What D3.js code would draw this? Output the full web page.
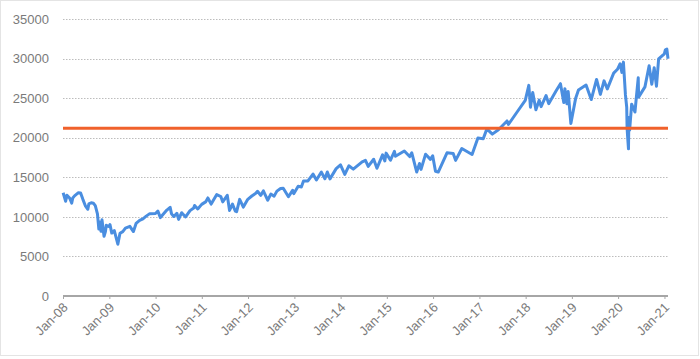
<!DOCTYPE html>
<html><head><meta charset="utf-8">
<script src="https://cdn.jsdelivr.net/npm/d3@7"></script>
<style>
html,body{margin:0;padding:0;background:#fff;}
svg{display:block;}
</style></head>
<body>
<svg id="chart" width="700" height="359"></svg>
<script>
const dates = [
"2008-01-02","2008-01-22","2008-02-01","2008-02-22","2008-03-10","2008-03-18","2008-04-01","2008-05-02","2008-05-19","2008-06-06","2008-06-27","2008-07-15","2008-07-23","2008-08-11","2008-08-28","2008-09-12","2008-09-29","2008-10-10","2008-10-13","2008-10-27","2008-11-04","2008-11-20","2008-12-01","2008-12-08","2008-12-31",
"2009-01-06","2009-01-20","2009-02-09","2009-03-09","2009-03-26","2009-04-17","2009-05-08","2009-06-12","2009-07-10","2009-07-31","2009-08-28","2009-09-23","2009-10-19","2009-11-16","2009-12-31",
"2010-01-19","2010-02-08","2010-03-31","2010-04-26","2010-05-07","2010-05-25","2010-06-18","2010-07-02","2010-07-26","2010-08-26","2010-09-30","2010-10-29","2010-11-05","2010-11-30","2010-12-31",
"2011-01-31","2011-02-18","2011-03-16","2011-04-29","2011-05-31","2011-06-15","2011-07-21","2011-08-08","2011-08-31","2011-09-22","2011-10-03","2011-10-27","2011-11-25","2011-12-30",
"2012-01-31","2012-02-29","2012-03-16","2012-04-10","2012-05-01","2012-06-04","2012-06-29","2012-07-25","2012-08-16","2012-09-14","2012-10-05","2012-11-15","2012-12-18","2012-12-28",
"2013-01-31","2013-02-25","2013-03-14","2013-04-18","2013-05-28","2013-06-24","2013-08-02","2013-08-30","2013-09-18","2013-10-09","2013-11-27","2013-12-31",
"2014-02-03","2014-03-07","2014-04-11","2014-06-20","2014-07-16","2014-08-07","2014-09-19","2014-10-15","2014-11-28","2014-12-16","2014-12-26",
"2015-01-30","2015-03-02","2015-03-10","2015-05-19","2015-06-30","2015-07-17","2015-08-25","2015-09-16","2015-09-28","2015-11-03","2015-12-11","2015-12-29",
"2016-01-20","2016-02-11","2016-04-20","2016-06-08","2016-06-27","2016-08-15","2016-11-04","2016-12-20",
"2017-01-31","2017-03-01","2017-04-13","2017-05-31","2017-08-07","2017-08-18","2017-10-31","2017-12-29",
"2018-01-26","2018-02-08","2018-02-26","2018-03-23","2018-04-18","2018-05-03","2018-06-11","2018-07-02","2018-08-31","2018-10-03","2018-10-29","2018-11-07","2018-11-23","2018-12-03","2018-12-24",
"2019-01-31","2019-02-22","2019-04-23","2019-06-03","2019-07-15","2019-08-14","2019-09-12","2019-10-08","2019-11-27","2019-12-27",
"2020-01-17","2020-01-31","2020-02-12","2020-02-28","2020-03-09","2020-03-12","2020-03-16","2020-03-23","2020-03-26","2020-04-01","2020-04-17","2020-05-13","2020-06-08","2020-06-11","2020-07-31","2020-09-02","2020-09-23","2020-10-12","2020-10-30","2020-11-16","2020-12-31",
"2021-01-08","2021-01-20","2021-01-29"
];
const values = [
13044,11971,12743,12381,11740,12392,12654,13058,13028,12210,11346,10962,11632,11782,11715,11421,10365,8451,9387,8175,9625,7552,8149,8934,8776,
9015,7949,8270,6547,7924,8131,8575,8799,8146,9172,9544,9748,10092,10406,10428,
10725,9908,10857,11205,10380,10043,10450,9686,10525,9985,10788,11118,11444,11006,11578,
11892,12391,11613,12811,12570,11897,12724,10810,11614,10734,10655,12208,11231,12218,
12633,12952,13233,12716,13279,12101,12880,12617,13250,13593,13610,12542,13351,12938,
13861,13784,14539,14537,15409,14660,15658,14810,15677,14802,16097,16577,
15373,16453,16027,16947,17138,16368,17280,16142,17828,17069,18053,
17165,18288,17662,18312,17620,18086,15666,16739,16001,17918,17265,17720,
15766,15660,18096,18005,17140,18636,17888,19974,
19864,21115,20453,21009,22118,21675,23377,24719,
26617,23860,25710,23533,24748,23930,25322,24307,25965,26828,24443,26191,24286,25826,21792,
24999,26031,26656,24819,27359,25479,27182,26164,28164,28645,
29348,28256,29551,25409,23851,21200,20189,18592,22552,20943,24242,23248,27572,25128,26428,29100,26763,28837,26502,29950,30606,
31098,31188,29983
];
const yTicks = [0,5000,10000,15000,20000,25000,30000,35000];
const xTickYears = [2008,2009,2010,2011,2012,2013,2014,2015,2016,2017,2018,2019,2020,2021];
const xTickLabels = ["Jan-08","Jan-09","Jan-10","Jan-11","Jan-12","Jan-13","Jan-14","Jan-15","Jan-16","Jan-17","Jan-18","Jan-19","Jan-20","Jan-21"];
const referenceLevel = [21200];

(function(){
const svg = d3.select("#chart");
const W = 700, H = 359;
const pL = 63, pR = 668, pT = 19, pB = 296;
const parse = d3.utcParse("%Y-%m-%d");
const data = dates.map((d,i)=>({date:parse(d), value:values[i]}));

const x = d3.scaleUtc().domain([new Date(Date.UTC(2008,0,1)), new Date(Date.UTC(2021,0,29))]).range([pL,pR]);
const y = d3.scaleLinear().domain([0,35000]).range([pB,pT]);

svg.append("rect").attr("x",0.5).attr("y",0.5).attr("width",W-2).attr("height",H-4)
  .attr("fill","#fff").attr("stroke","#c8c8c8").attr("stroke-dasharray","1,1");

svg.append("g").selectAll("line").data(yTicks.filter(t=>t>0)).join("line")
  .attr("x1",pL).attr("x2",pR)
  .attr("y1",d=>Math.round(y(d))+0.5).attr("y2",d=>Math.round(y(d))+0.5)
  .attr("stroke","#bdbdbd").attr("stroke-width",1).attr("stroke-dasharray","1.5,1.5");

const yAxis = d3.axisLeft(y).tickValues(yTicks).tickSize(0).tickPadding(0).tickFormat(d3.format("d"));
const gy = svg.append("g").attr("transform",`translate(${pL-14},0)`).call(yAxis);
gy.select(".domain").remove();
gy.selectAll("text").attr("font-family","Liberation Sans, Arial, sans-serif").attr("font-size",13).attr("fill","#7a7a7a");

const xAxis = d3.axisBottom(x).tickValues(xTickYears.map(yv=>new Date(Date.UTC(yv,0,1))))
  .tickSize(3).tickFormat((d,i)=>xTickLabels[i]);
const gx = svg.append("g").attr("transform",`translate(0,${pB})`).call(xAxis);
gx.select(".domain").attr("stroke","#a6a6a6").attr("stroke-width",2).attr("d",`M${pL},0H${pR}`);
gx.selectAll(".tick line").attr("stroke","#a6a6a6");
gx.selectAll("text").attr("font-family","Liberation Sans, Arial, sans-serif").attr("font-size",13).attr("fill","#7a7a7a")
  .attr("text-anchor","end").attr("dy","0.35em")
  .attr("transform","translate(2,9) rotate(-45)").attr("y",0).attr("x",0);

const line = d3.line().x(d=>x(d.date)).y(d=>y(d.value));
svg.append("path").datum(data).attr("d",line).attr("fill","none")
  .attr("stroke","#4a8ee0").attr("stroke-width",3).attr("stroke-linejoin","round");

svg.append("g").selectAll("line").data(referenceLevel).join("line")
  .attr("x1",pL).attr("x2",pR).attr("y1",d=>y(d)).attr("y2",d=>y(d))
  .attr("stroke","#f0612b").attr("stroke-width",3);
})();
</script>
</body></html>
